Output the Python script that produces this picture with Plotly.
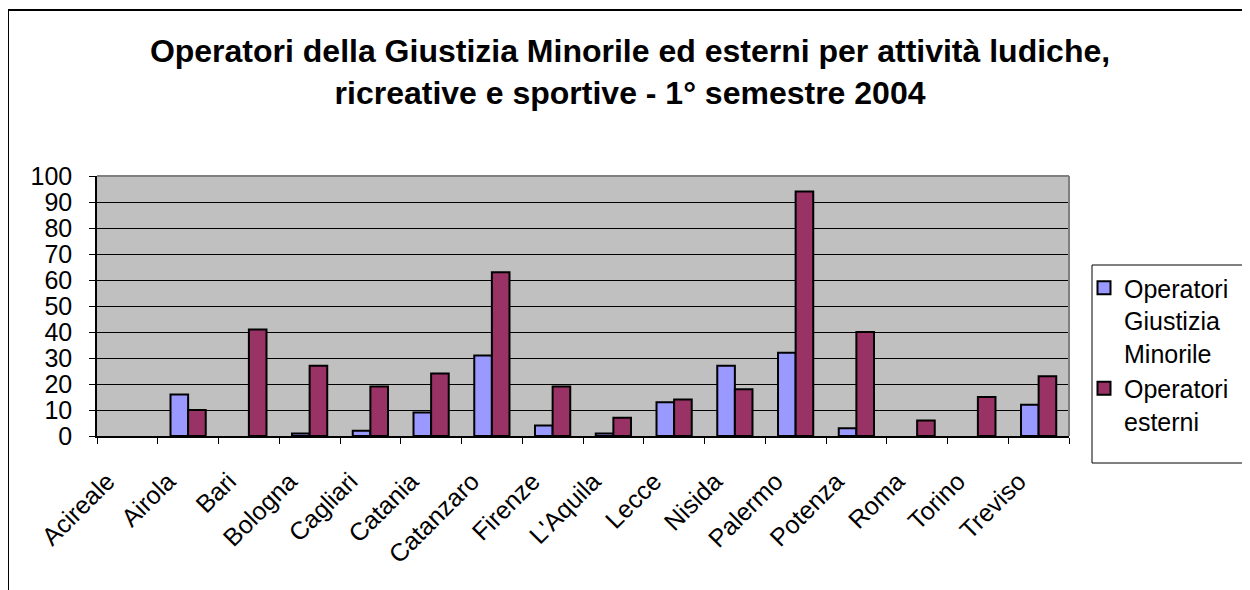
import plotly.graph_objects as go

# dati
sedi = ["Acireale", "Airola", "Bari", "Bologna", "Cagliari", "Catania", "Catanzaro",
        "Firenze", "L'Aquila", "Lecce", "Nisida", "Palermo", "Potenza", "Roma",
        "Torino", "Treviso"]
giustizia_minorile = [0, 16, 0, 1, 2, 9, 31, 4, 1, 13, 27, 32, 3, 0, 0, 12]
esterni = [0, 10, 41, 27, 19, 24, 63, 19, 7, 14, 18, 94, 40, 6, 15, 23]
y_ticks = list(range(0, 101, 10))

serie = [
    ("Operatori<br>Giustizia<br>Minorile", giustizia_minorile, "#9999FF"),
    ("Operatori<br>esterni", esterni, "#993366"),
]

FONT = "Liberation Sans, Arial, sans-serif"


def bordo(valori):
    # niente contorno per le barre a zero
    return [2 if v > 0 else 0 for v in valori]


fig = go.Figure()
for nome, valori, colore in serie:
    fig.add_trace(go.Bar(
        x=sedi, y=valori, name=nome, showlegend=False,
        marker=dict(color=colore, line=dict(color="black", width=bordo(valori))),
    ))
# voci di legenda con quadratino bordato
for nome, valori, colore in serie:
    fig.add_trace(go.Scatter(
        x=[None], y=[None], name=nome, mode="markers",
        marker=dict(symbol="square", size=13, color=colore,
                    line=dict(color="black", width=2)),
    ))

# la pagina ha 8px di margine sul body
W, H = 1242, 582
L, R, T, B = 89, 1061, 168, 428

fig.update_layout(
    width=W, height=H,
    margin=dict(l=L, r=W - R, t=T, b=H - B, autoexpand=False),
    paper_bgcolor="white",
    plot_bgcolor="#C0C0C0",
    barmode="group",
    bargap=0.42,
    bargroupgap=0,
    font=dict(family=FONT, size=25, color="black"),
    title=dict(
        text="<b>Operatori della Giustizia Minorile ed esterni per attività ludiche,<br>"
             "ricreative e sportive - 1° semestre 2004</b>",
        x=622 / W, xanchor="center", y=1 - 54 / H, yanchor="top",
        font=dict(family=FONT, size=32),
    ),
    legend=dict(
        x=(1076 - L) / (R - L), xanchor="left",
        y=(B - 257) / (B - T), yanchor="top",
        borderwidth=0, bgcolor="rgba(0,0,0,0)",
        font=dict(family=FONT, size=25),
        traceorder="normal", itemwidth=30, valign="top",
        tracegroupgap=2,
    ),
    showlegend=True,
)

fig.update_xaxes(
    type="category", tickangle=-45, tickson="boundaries",
    ticks="outside", ticklen=6, tickcolor="black",
    showline=True, linecolor="black", linewidth=1.5,
    showgrid=False, tickfont=dict(family=FONT, size=25),
    ticklabelstandoff=19, ticklabelshift=-20,
)
fig.update_yaxes(
    range=[0, 100], tickvals=y_ticks,
    ticks="outside", ticklen=6, tickcolor="black",
    showline=True, linecolor="black", linewidth=1.5,
    showgrid=True, gridcolor="black", gridwidth=1,
    zeroline=False, tickfont=dict(family=FONT, size=25),
    ticklabelstandoff=12,
)

# bordo grigio dell'area del grafico (alto e destra)
fig.add_shape(type="line", xref="paper", yref="paper", x0=0, x1=1, y0=1, y1=1,
              line=dict(color="#808080", width=2))
fig.add_shape(type="line", xref="paper", yref="paper", x0=1, x1=1, y0=0, y1=1,
              line=dict(color="#808080", width=2))

# riquadro della legenda
fig.add_shape(type="rect", xref="paper", yref="paper",
              x0=(1084 - L) / (R - L), x1=(W + 20 - L) / (R - L),
              y0=(B - 455) / (B - T), y1=(B - 257) / (B - T),
              line=dict(color="black", width=1), layer="below")

# cornice esterna del grafico
fig.add_shape(type="rect", xref="paper", yref="paper",
              x0=(0 - L) / (R - L), x1=(W + 20 - L) / (R - L),
              y0=(B - H - 20) / (B - T), y1=(B - 2) / (B - T),
              line=dict(color="black", width=2), layer="below")

fig.write_html("out.html")
